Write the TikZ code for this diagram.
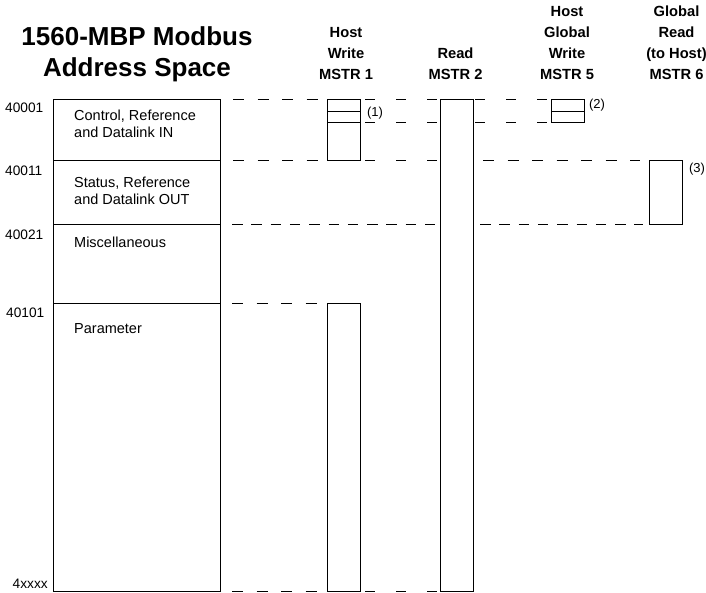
\documentclass[tikz,border=0pt]{standalone}
\usepackage{fontspec}
\setmainfont{Liberation Sans}
\usetikzlibrary{positioning,calc}

\begin{document}
\begin{tikzpicture}[
  x=1pt, y=-1pt,
  every node/.style={font=\fontsize{14.5}{17}\selectfont},
  region/.style={draw, line width=1pt, anchor=north west, inner sep=0pt, outer sep=0pt,
                 minimum width=167pt},
  window/.style={draw, line width=1pt, anchor=north west, inner sep=0pt, outer sep=0pt,
                 minimum width=33pt},
  regtext/.style={anchor=base west, align=left, inner sep=0pt},
  addr/.style={anchor=base west, inner sep=0pt, font=\fontsize{13.7}{16}\selectfont},
  head/.style={anchor=base, align=center, inner sep=0pt,
               font=\bfseries\fontsize{14.7}{21}\selectfont},
  note/.style={inner sep=0pt, font=\fontsize{13}{15}\selectfont},
  guide/.style={line width=1pt, dash pattern=on 11pt off 13.5pt},
  guidewide/.style={line width=1pt, dash pattern=on 10pt off 21pt},
  guidetight/.style={line width=1pt, dash pattern=on 10.5pt off 8.8pt},
]
  \useasboundingbox (0,0) rectangle (706,593);

  % title and column heads
  \node[head, font=\bfseries\fontsize{26}{31}\selectfont] (title) at (137,77) {1560-MBP Modbus\\Address Space};
  \node[head] (h1) at (346,79.5) {Host\\Write\\MSTR 1};
  \node[head] (h2) at (455.5,79.5) {Read\\MSTR 2};
  \node[head] (h5) at (567,79.5) {Host\\Global\\Write\\MSTR 5};
  \node[head] (h6) at (676.5,79.5) {Global\\Read\\(to Host)\\MSTR 6};

  % address space
  \node[region, minimum height=61pt]  (ctrl)  at (53,100) {};
  \node[region, minimum height=64pt]  (stat)  at (53,161) {};
  \node[region, minimum height=79pt]  (misc)  at (53,225) {};
  \node[region, minimum height=287pt] (param) at (53,304) {};

  \node[regtext] (ctrltxt)  at (74,137.5) {Control, Reference\\and Datalink IN};
  \node[regtext] (stattxt)  at (74,204.5) {Status, Reference\\and Datalink OUT};
  \node[regtext] (misctxt)  at (74,248)   {Miscellaneous};
  \node[regtext] (paramtxt) at (74,334)   {Parameter};

  \node[addr] (a1) at (5,113)    {40001};
  \node[addr] (a2) at (5,176)    {40011};
  \node[addr] (a3) at (5,240)    {40021};
  \node[addr] (a4) at (6,317)    {40101};
  \node[addr] (a5) at (12.5,588) {4xxxx};

  % MSTR windows
  \node[window, minimum height=12pt]  (w1a) at (327,100) {};
  \node[window, minimum height=11pt]  (w1b) at (327,112) {};
  \node[window, minimum height=38pt]  (w1c) at (327,123) {};
  \node[window, minimum height=287pt] (w1p) at (327,304) {};
  \node[window, minimum height=491pt] (rd)  at (440,100) {};
  \node[window, minimum height=12pt]  (g5a) at (551,100) {};
  \node[window, minimum height=11pt]  (g5b) at (551,112) {};
  \node[window, minimum height=64pt]  (g6)  at (649,161) {};

  \node[note] (n1) at (375,113) {(1)};
  \node[note] (n2) at (597,105) {(2)};
  \node[note] (n3) at (697,169) {(3)};

  % dashed guides
  \draw[guide] ($(ctrl.north east)+(13,0)$) -- ($(w1a.north west)+(-9,0)$);
  \draw[guidewide] ($(w1a.north east)+(5,0)$) -- ($(rd.north west)+(-3,0)$);
  \draw[guidewide] ($(rd.north east)+(2,0)$) -- ($(g5a.north west)+(-3,0)$);
  \draw[guidewide] ($(w1b.south east)+(5,0)$) -- ($(rd.west |- w1b.south)+(-3,0)$);
  \draw[guidewide] ($(rd.east |- g5b.south)+(2,0)$) -- ($(g5b.south west)+(-3,0)$);
  \draw[guide] ($(ctrl.south east)+(13,0)$) -- ($(w1c.south west)+(-9,0)$);
  \draw[guidewide] ($(w1c.south east)+(5,0)$) -- ($(rd.west |- w1c.south)+(-3,0)$);
  \draw[guide] ($(rd.east |- g6.north)+(10,0)$) -- ($(g6.north west)+(-9,0)$);
  \draw[guidetight] ($(stat.south east)+(12,0)$) -- ($(rd.west |- stat.south)+(-5,0)$);
  \draw[guidetight] ($(rd.east |- g6.south)+(7,0)$) -- ($(g6.south west)+(-6,0)$);
  \draw[guide] ($(misc.south east)+(12,0)$) -- ($(w1p.north west)+(-9,0)$);
  \draw[guide] ($(param.south east)+(12,0)$) -- ($(w1p.south west)+(-9,0)$);
  \draw[guidewide] ($(w1p.south east)+(5,0)$) -- ($(rd.south west)+(-3,0)$);
\end{tikzpicture}
\end{document}
